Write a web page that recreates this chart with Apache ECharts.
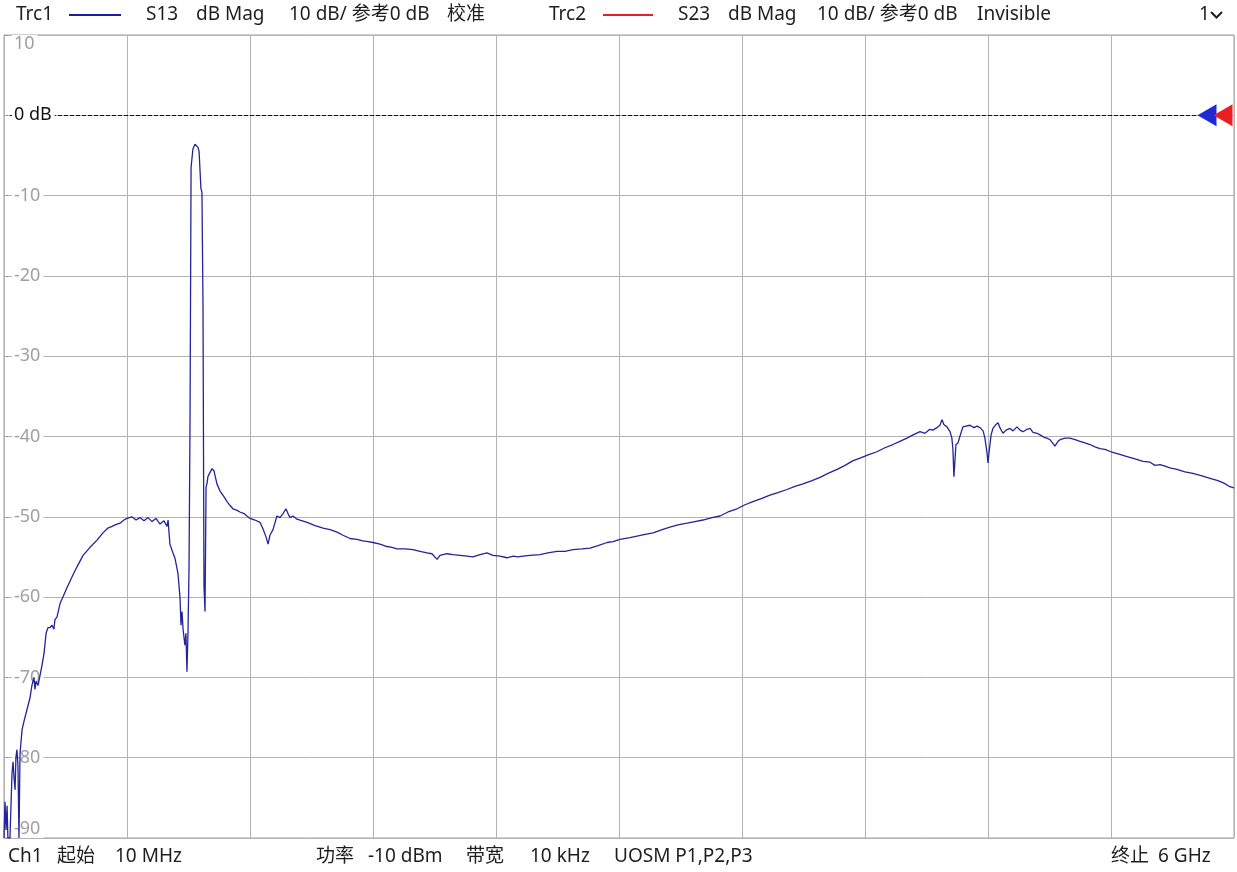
<!DOCTYPE html>
<html><head><meta charset="utf-8">
<script src="https://cdn.jsdelivr.net/npm/echarts@6/dist/echarts.min.js"></script>
<style>html,body{margin:0;padding:0;background:#fff}#c{width:1237px;height:872px}</style>
</head><body><div id="c"></div>
<script>
// ---- data ----
const startMHz = 10;
const stopMHz = 6000;
const refLevelDb = 0;
const yMinDb = -90;
const yMaxDb = 10;
const dbPerDiv = 10;
const xDivisions = 10;

const freqMHz = [
  10,15,20,25,29,39,49,54,59,64,
  68,73,78,83,88,98,107,117,127,137,
  146,156,161,166,176,185,195,205,215,224,
  234,244,253,258,268,283,297,317,341,366,
  395,429,463,492,516,536,551,575,594,609,
  633,653,672,692,711,731,750,770,789,804,
  809,818,833,843,857,867,872,877,882,891,
  896,901,906,911,916,921,930,940,945,955,
  960,969,974,979,984,989,994,999,1003,1013,
  1023,1033,1047,1062,1081,1096,1111,1125,1145,1159,
  1179,1193,1208,1232,1257,1271,1286,1296,1305,1320,
  1339,1354,1369,1383,1393,1403,1417,1437,1451,1486,
  1525,1564,1598,1632,1661,1695,1729,1758,1783,1807,
  1841,1875,1900,1924,1963,2002,2036,2070,2094,2119,
  2133,2167,2197,2231,2265,2294,2328,2362,2391,2425,
  2460,2489,2513,2537,2572,2620,2659,2703,2742,2781,
  2825,2864,2903,2947,2976,3010,3059,3093,3132,3171,
  3215,3253,3292,3336,3375,3414,3458,3497,3536,3580,
  3619,3657,3701,3740,3779,3823,3862,3901,3945,3984,
  4023,4067,4106,4145,4179,4218,4261,4300,4339,4373,
  4407,4437,4471,4495,4519,4534,4553,4568,4578,4587,
  4602,4617,4626,4631,4636,4641,4646,4656,4665,4680,
  4695,4714,4734,4748,4763,4778,4787,4797,4802,4807,
  4817,4826,4841,4851,4860,4875,4890,4909,4924,4943,
  4958,4973,4992,5007,5021,5041,5055,5075,5089,5104,
  5119,5128,5143,5153,5177,5201,5226,5250,5274,5299,
  5323,5347,5372,5401,5440,5479,5518,5557,5591,5615,
  5640,5664,5688,5722,5761,5800,5844,5883,5922,5951,
  5976,6000
];

const s13dB = [
  -90,-85.5,-89,-86,-90,-90,-82,-80.5,-82.5,-84,
  -80,-79,-81,-90,-79.5,-76.5,-75.5,-74.5,-73.5,-72.5,
  -71,-70,-71.5,-70.5,-71,-70.8,-68.5,-67,-64.5,-63.8,
  -63.8,-63.5,-64,-62.8,-62.5,-60.8,-60,-58.8,-57.5,-56.2,
  -54.8,-53.8,-52.9,-52,-51.4,-51.2,-51,-50.8,-50.4,-50.2,
  -50,-50.4,-50.1,-50.5,-50.1,-50.6,-50.2,-50.9,-50.5,-51.2,
  -50.4,-53.4,-54.5,-55.2,-57,-60,-63.5,-61.8,-64,-66,
  -64.5,-69.3,-64.5,-56.5,-37.9,-6.5,-4.2,-3.6,-3.8,-4,
  -4.5,-9.1,-9.6,-23.3,-58.7,-61.8,-46.3,-45.8,-45,-44.5,
  -44,-44.3,-45.9,-46.8,-47.5,-48.1,-48.6,-49,-49.2,-49.4,
  -49.6,-49.9,-50.2,-50.4,-50.7,-51.5,-52.5,-53.4,-52.3,-51.6,
  -49.9,-50.1,-49.6,-49,-49.6,-50.1,-49.9,-50.3,-50.4,-50.7,
  -51.1,-51.4,-51.6,-51.9,-52.3,-52.7,-52.8,-53,-53.1,-53.2,
  -53.4,-53.7,-53.8,-54,-54,-54.1,-54.3,-54.5,-54.6,-55.3,
  -54.8,-54.6,-54.7,-54.8,-54.9,-55,-54.7,-54.5,-54.8,-54.9,
  -55.1,-54.9,-55,-54.9,-54.8,-54.7,-54.5,-54.3,-54.3,-54.1,
  -54,-53.9,-53.6,-53.2,-53.1,-52.8,-52.6,-52.4,-52.2,-52,
  -51.6,-51.3,-51,-50.8,-50.6,-50.4,-50.1,-49.9,-49.4,-49,
  -48.5,-48.1,-47.7,-47.3,-47,-46.6,-46.2,-45.9,-45.5,-45.1,
  -44.6,-44.1,-43.6,-43,-42.7,-42.3,-41.9,-41.4,-41,-40.6,
  -40.2,-39.8,-39.4,-39.6,-39.1,-39.2,-38.9,-38.6,-37.9,-38.5,
  -38.8,-39.4,-40.2,-41.5,-45,-43,-41,-40.8,-40,-38.8,
  -38.7,-38.6,-38.9,-38.7,-38.9,-39.3,-40.2,-42,-43.3,-42,
  -39.8,-39,-38.5,-38.3,-38.9,-39.6,-39.2,-39,-39.3,-38.8,
  -39.2,-39.4,-39.1,-39,-39.5,-39.6,-39.8,-40.1,-40.2,-40.4,
  -40.9,-41.2,-40.6,-40.4,-40.2,-40.2,-40.4,-40.6,-40.8,-41,
  -41.3,-41.5,-41.6,-41.9,-42.2,-42.5,-42.8,-43.1,-43.2,-43.6,
  -43.5,-43.7,-43.9,-44.1,-44.4,-44.6,-44.9,-45.2,-45.5,-45.8,
  -46.2,-46.4
];

const headerLabels = ['Trc1','S13','dB Mag','10 dB/ 参考0 dB','校准','Trc2','S23','dB Mag','10 dB/ 参考0 dB','Invisible','1'];
const footerLabels = ['Ch1','起始','10 MHz','功率','-10 dBm','带宽','10 kHz','UOSM P1,P2,P3','终止','6 GHz'];

// ---- layout / style ----
const FONT = '"Noto Sans","Noto Sans CJK SC",sans-serif';
const headerX = [16,146,196,289,447,549,678,728,817,977,1199];
const footerX = [8,57,115,316,368,466,530,614,1111,1158];
const traceColor = '#23239a';

const chart = echarts.init(document.getElementById('c'), null, {renderer:'canvas'});

const graphic = [];
headerLabels.forEach((t,i)=>graphic.push({type:'text', x:headerX[i], y:15, silent:true,
  style:{text:t, font:'19px '+FONT, fill:'#1e1e1e', verticalAlign:'middle'}}));
footerLabels.forEach((t,i)=>graphic.push({type:'text', x:footerX[i], y:857, silent:true,
  style:{text:t, font:'19px '+FONT, fill:'#1e1e1e', verticalAlign:'middle'}}));
graphic.push({type:'line', silent:true, shape:{x1:69,y1:15,x2:121,y2:15}, style:{stroke:'#1a1aa8', lineWidth:2}});
graphic.push({type:'line', silent:true, shape:{x1:603,y1:15,x2:653,y2:15}, style:{stroke:'#e0202a', lineWidth:2}});
graphic.push({type:'polyline', silent:true, shape:{points:[[1211,12],[1216.5,17.5],[1222,12]]}, style:{stroke:'#1e1e1e', lineWidth:2, fill:null}});

const option = {
  animation:false,
  backgroundColor:'#fff',
  graphic: graphic,
  grid:{left:4, right:3, top:35, bottom:34, show:true, borderColor:'#a0a0a0', borderWidth:1, backgroundColor:'transparent'},
  xAxis:[
    {type:'value', min:startMHz, max:stopMHz, show:false, splitLine:{show:false}},
    {type:'value', min:0, max:xDivisions, interval:1, position:'bottom', z:0,
     axisLine:{show:false}, axisTick:{show:false}, axisLabel:{show:false},
     splitLine:{show:true, lineStyle:{color:'#b3b3b3', width:1}}}
  ],
  yAxis:[
    {type:'value', min:yMinDb, max:yMaxDb, interval:dbPerDiv, position:'left', z:0,
     axisLine:{show:false}, axisTick:{show:false}, axisLabel:{show:false},
     splitLine:{show:true, lineStyle:{color:'#b3b3b3', width:1}}},
    {type:'value', min:yMinDb, max:yMaxDb, interval:dbPerDiv, position:'left', z:2,
     axisLine:{show:false}, splitLine:{show:false},
     axisTick:{show:true, inside:true, length:4, lineStyle:{color:'#9a9a9a', width:1}},
     axisLabel:{show:true, inside:true, margin:8, color:'#a0a0a0', fontSize:18, fontFamily:FONT,
       backgroundColor:'#fff', padding:[0,3,0,2],
       verticalAlignMaxLabel:'top', verticalAlignMinLabel:'bottom',
       formatter:v=> v===refLevelDb ? '{ref|0 dB}' : String(v),
       rich:{ref:{color:'#111', fontSize:18, fontFamily:FONT}}}}
  ],
  series:[
    {type:'line', name:'ref', xAxisIndex:0, yAxisIndex:0, z:1, data:[], silent:true,
     markLine:{z:1, silent:true, symbol:['none','none'], label:{show:false},
       lineStyle:{color:'#111', width:1, type:[4,2]}, data:[{yAxis:refLevelDb}]}},
    {type:'line', name:'Trc1 S13', xAxisIndex:0, yAxisIndex:0, z:3,
     data: freqMHz.map((f,i)=>[f, s13dB[i]]),
     showSymbol:false, clip:true,
     lineStyle:{color:traceColor, width:1.3}, itemStyle:{color:traceColor},
     markPoint:{z:5, silent:true, label:{show:false},
       data:[
         {coord:[stopMHz, refLevelDb], symbol:'triangle', symbolRotate:90, symbolSize:[22,19], symbolOffset:[-27,0], itemStyle:{color:'#1f2ad6'}},
         {coord:[stopMHz, refLevelDb], symbol:'triangle', symbolRotate:90, symbolSize:[22,19], symbolOffset:[-11,0], itemStyle:{color:'#ea1f1f'}}
       ]}}
  ]
};
chart.setOption(option);
</script></body></html>
